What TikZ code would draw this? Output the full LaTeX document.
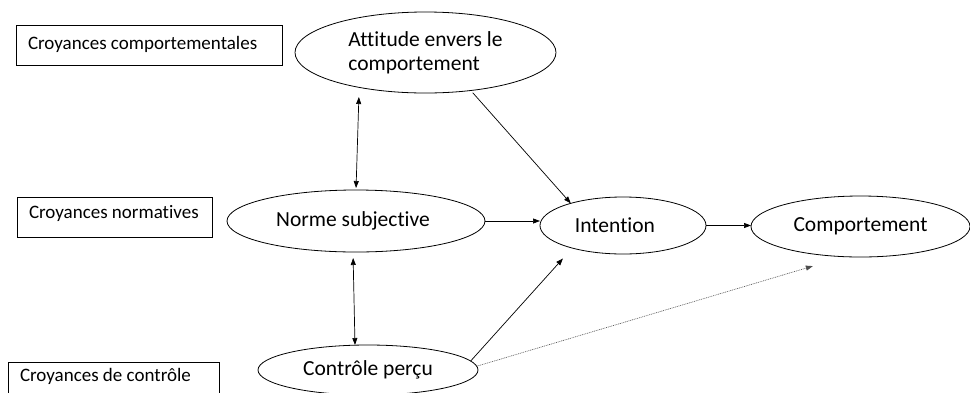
\documentclass[tikz,border=0pt]{standalone}
\usepackage{fontspec}
\setmainfont[Ligatures=NoCommon]{Carlito}
\usetikzlibrary{arrows.meta,shapes.geometric}
\begin{document}
\begin{tikzpicture}[x=1pt,y=-1pt,
  ell/.style={draw, ellipse, line width=0.8pt, inner sep=0pt, outer sep=0pt,
    font=\fontsize{21.5}{24}\selectfont},
  lbl/.style={draw, rectangle, line width=0.8pt, anchor=north west, inner ysep=0pt,
    inner xsep=12pt, outer sep=0pt, font=\fontsize{19}{22}\selectfont},
  arr/.style={-{Triangle[length=7pt,width=5pt]}, line width=0.7pt},
  dbl/.style={{Triangle[length=7pt,width=5pt]}-{Triangle[length=7pt,width=5pt]}, line width=0.7pt},
  dotarr/.style={-{Triangle[length=7pt,width=5pt]}, line width=0.6pt, black!70,
    dash pattern=on 0.9pt off 0.9pt}]
\useasboundingbox (0,0) rectangle (970,392);
\clip (0,0) rectangle (970,392);
% belief boxes
\node[lbl, text height=24pt, text depth=16pt] (b1) at (16,25) {\makebox[242pt][l]{Croyances comportementales}};
\node[lbl, text height=21pt, text depth=19pt] (b2) at (17,197) {\makebox[171pt][l]{Croyances normatives}};
\node[lbl, text height=19pt, text depth=45pt] (b3) at (8,362) {\makebox[187pt][l]{Croyances de contrôle}};
% ellipses
\node[ell, minimum width=261, minimum height=81, align=left] (att) at (425.5,52.5) {Attitude envers le\\comportement};
\node[ell, minimum width=258, minimum height=62] (nor) at (356,221) {Norme subjective\hspace*{6pt}};
\node[ell, minimum width=166, minimum height=57] (int) at (623,225.5) {Intention\hspace*{16pt}};
\node[ell, minimum width=219, minimum height=61] (comp) at (860.5,226.5) {Comportement};
\node[ell, minimum width=220, minimum height=50] (ctl) at (368,370) {Contrôle perçu};
% connectors
\draw[dbl, shorten <=4pt, shorten >=2pt] ([xshift=3pt]att.south -| nor.north) -- (nor.north);
\draw[dbl, shorten <=6pt] ([xshift=-3pt]nor.south) -- ([xshift=-1pt]nor.south |- ctl.north);
\draw[arr, shorten <=3pt] (att.-40) -- (int.157);
\draw[arr] (nor.east) -- (nor.east -| int.west);
\draw[arr] (int.east) -- (int.east -| comp.west);
\draw[arr, shorten >=14pt] (ctl.5) -- (int.204);
\draw[dotarr, shorten >=33pt] (ctl.2) -- (comp.242);
\end{tikzpicture}
\end{document}
